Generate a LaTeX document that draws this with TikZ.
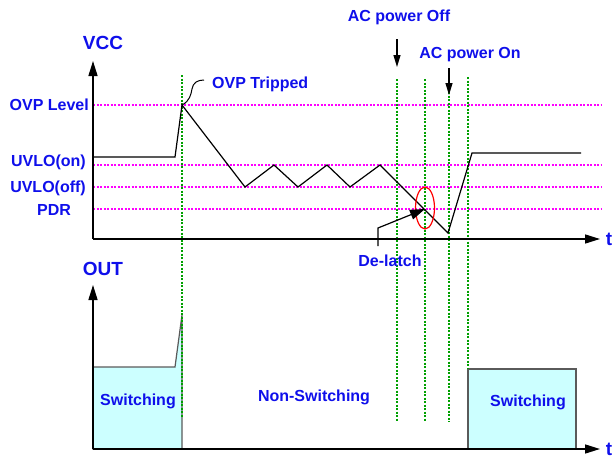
\documentclass[tikz,border=0pt]{standalone}
\usepackage{fontspec}
\setmainfont{Liberation Sans}
\usetikzlibrary{arrows.meta,shapes.geometric}
\definecolor{lblue}{RGB}{15,15,235}
\definecolor{vmag}{RGB}{255,0,255}
\definecolor{vgreen}{RGB}{0,160,0}
\definecolor{swfill}{RGB}{204,255,255}
\definecolor{boxedge}{RGB}{90,90,90}
\begin{document}
\begin{tikzpicture}[x=1pt,y=-1pt,
  lbl/.style={text=lblue,font=\fontsize{16}{19}\selectfont\bfseries,inner sep=0pt},
  biglbl/.style={text=lblue,font=\fontsize{19}{22}\selectfont\bfseries,inner sep=0pt},
  axisline/.style={line width=1.5pt,-{Triangle[length=15pt,width=9pt]}},
  wave/.style={line width=1.2pt,line join=miter},
  level/.style={draw=vmag,line width=1.3pt,dash pattern=on 2pt off 1.5pt},
  gline/.style={draw=vgreen,line width=1.3pt,dash pattern=on 2pt off 1.5pt},
  acarrow/.style={line width=1.2pt,-{Triangle[length=12pt,width=7pt]}},
  swbox/.style={fill=swfill,draw=boxedge,line width=1.2pt},
]
\useasboundingbox (0,0) rectangle (614,458);

% switching boxes
\draw[swbox] (93,449) -- (93,367) -- (175,367) -- (182,315) -- (182,449) -- cycle;
\draw[swbox] (468,369) rectangle (576,449);

% level lines
\foreach \yy in {105,165,187,209} {
  \draw[level] (93,\yy) -- (602,\yy);
}

% green marker lines
\draw[gline] (182,75) -- (182,418);
\draw[gline] (397,79) -- (397,422);
\draw[gline] (425,79) -- (425,422);
\draw[gline] (449,92) -- (449,422);
\draw[gline] (468,77) -- (468,369);

% axes
\coordinate (vo) at (93,239);
\coordinate (vtop) at (93,61);
\coordinate (vend) at (600,239);
\coordinate (oo) at (93,449);
\coordinate (otop) at (93,285);
\coordinate (oend) at (600,449);
\draw[axisline] (vo) -- (vtop);
\draw[axisline] (vo) -- (vend);
\draw[axisline] (oo) -- (otop);
\draw[axisline] (oo) -- (oend);

% VCC waveform
\coordinate (w0) at (93,157);
\coordinate (w1) at (175,157);
\coordinate (w2) at (182,105);
\coordinate (w3) at (245,187);
\coordinate (w4) at (274,165);
\coordinate (w5) at (298,187);
\coordinate (w6) at (327,165);
\coordinate (w7) at (350,187);
\coordinate (w8) at (380,165);
\coordinate (w9) at (448,233);
\coordinate (w10) at (472,153);
\coordinate (w11) at (581,153);
\draw[wave] (w0) -- (w1) -- (w2) -- (w3) -- (w4) -- (w5) -- (w6) -- (w7) -- (w8) -- (w9) -- (w10) -- (w11);

% labels
\node[biglbl] (vcc) at (103,43) {VCC};
\node[biglbl] (out) at (103,269) {OUT};
\node[biglbl,anchor=base] (t1) at (609,245) {t};
\node[biglbl,anchor=base] (t2) at (609,455) {t};
\node[lbl,anchor=base east] (ovpl) at (89,110.7) {OVP Level};
\node[lbl,anchor=base east] (uvon) at (86,166.5) {UVLO(on)};
\node[lbl,anchor=base east] (uvoff) at (86,192.5) {UVLO(off)};
\node[lbl,anchor=base] (pdr) at (54,215) {PDR};
\node[lbl,anchor=base west] (ovpt) at (212,88) {OVP Tripped};
\node[lbl,anchor=base] (acoff) at (399,21.7) {AC power Off};
\node[lbl,anchor=base] (acon) at (470,58.3) {AC power On};
\node[lbl,anchor=base] (delatch) at (390,266) {De-latch};
\node[lbl,anchor=base] (sw1) at (138,405.7) {Switching};
\node[lbl,anchor=base] (nsw) at (314,401.7) {Non-Switching};
\node[lbl,anchor=base] (sw2) at (528,406.7) {Switching};

% OVP tripped squiggle
\draw[line width=1pt] (w2) .. controls (190,101) and (191,94) .. (192,89)
  .. controls (193,83) and (197,80) .. (204,80);

% AC arrows
\coordinate (offs) at (397,39);
\coordinate (offe) at (397,67);
\coordinate (ons) at (449,68);
\coordinate (one) at (449,95);
\draw[acarrow] (offs) -- (offe);
\draw[acarrow] (ons) -- (one);

% de-latch
\node[draw=red,line width=1.2pt,ellipse,minimum width=19pt,minimum height=42pt,inner sep=0pt] (ell) at (425,208) {};
\coordinate (dl0) at (378,246);
\coordinate (dl1) at (378,228);
\coordinate (dl2) at (425,209);
\draw[line width=1.2pt,-{Triangle[length=15pt,width=10pt]}] (dl0) -- (dl1) -- (dl2);
\end{tikzpicture}
\end{document}
